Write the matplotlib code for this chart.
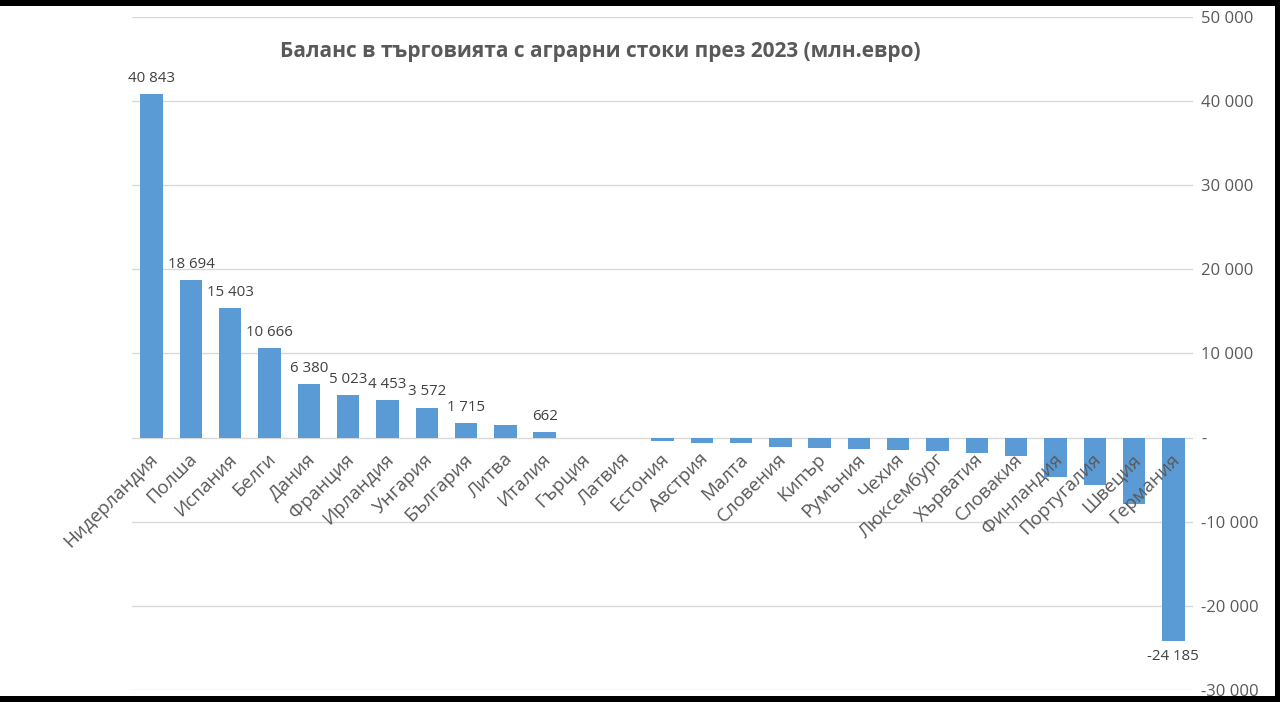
import matplotlib.pyplot as plt
from matplotlib.patches import Rectangle
from matplotlib.ticker import FuncFormatter

# --- data ---
countries = [
    "Нидерландия", "Полша", "Испания", "Белги", "Дания", "Франция", "Ирландия",
    "Унгария", "България", "Литва", "Италия", "Гърция", "Латвия", "Естония",
    "Австрия", "Малта", "Словения", "Кипър", "Румъния", "Чехия", "Люксембург",
    "Хърватия", "Словакия", "Финландия", "Португалия", "Швеция", "Германия",
]
balance = [
    40843, 18694, 15403, 10666, 6380, 5023, 4453,
    3572, 1715, 1550, 662, -60, -90, -400,
    -600, -650, -1100, -1200, -1300, -1500, -1600,
    -1850, -2200, -4700, -5650, -7900, -24185,
]
# only these bars carry a value label in the original
labelled = ["Нидерландия", "Полша", "Испания", "Белги", "Дания", "Франция",
            "Ирландия", "Унгария", "България", "Италия", "Германия"]
title = "Баланс в търговията с аграрни стоки през 2023 (млн.евро)"

BAR = "#5B9BD5"
GRID = "#D9D9D9"
TXT = "#595959"
FONT = "Open Sans"


def fmt(v, pos=None):
    if v == 0:
        return "-"
    s = f"{abs(int(round(v))):,}".replace(",", " ")
    return ("-" if v < 0 else "") + s


fig = plt.figure(figsize=(12.8, 7.02), dpi=100, facecolor="black")
# white canvas inside the black frame
fig.patches.append(Rectangle((0, 6 / 702), 1275 / 1280, (695 - 6) / 702 + 0.001,
                             transform=fig.transFigure, facecolor="white",
                             edgecolor="none", zorder=-10))

ax = fig.add_axes([132 / 1280, 1 - 690 / 702, (1193 - 132) / 1280, (690 - 17) / 702])
ax.set_facecolor("none")

x = list(range(len(countries)))
ax.bar(x, balance, width=0.57, color=BAR, zorder=3)

ax.set_xlim(-0.5, len(countries) - 0.5)
ax.set_ylim(-30000, 50000)
ax.set_yticks(range(-30000, 50001, 10000))
ax.yaxis.set_major_formatter(FuncFormatter(fmt))
ax.yaxis.tick_right()
ax.tick_params(axis="y", length=0, pad=6, labelsize=12, labelcolor=TXT)
for t in ax.get_yticklabels():
    t.set_fontfamily(FONT)
ax.set_xticks([])
ax.grid(axis="y", color=GRID, linewidth=1, zorder=0)
for s in ax.spines.values():
    s.set_visible(False)

# category labels, rotated, hanging below the zero line
for i, name in enumerate(countries):
    ax.annotate(name, xy=(i, 0), xytext=(-2, -9), textcoords="offset points",
                ha="right", va="top", rotation=45, rotation_mode="anchor",
                fontsize=13.5, color=TXT, family=FONT)

# value labels
for i, (name, v) in enumerate(zip(countries, balance)):
    if name not in labelled:
        continue
    off = 6 if v >= 0 else -6
    ax.annotate(fmt(v), xy=(i, v), xytext=(0, off), textcoords="offset points",
                ha="center", va="bottom" if v >= 0 else "top",
                fontsize=10.8, color="#404040", family=FONT)

fig.text(600 / 1280, 1 - 51 / 702, title, ha="center", va="center",
         fontsize=15, fontweight="bold", color=TXT, family=FONT)

fig.savefig("out.png", dpi=100, facecolor="black")
